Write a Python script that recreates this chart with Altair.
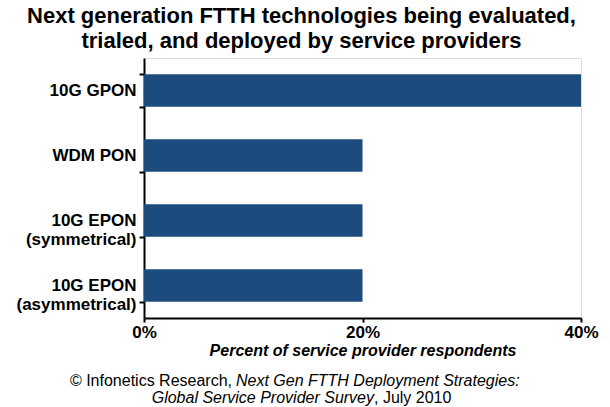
import altair as alt
import pandas as pd

# Survey results: share of service providers evaluating / trialing / deploying each technology
technologies = [
    "10G GPON",
    "WDM PON",
    "10G EPON\n(symmetrical)",
    "10G EPON\n(asymmetrical)",
]
shares = [0.40, 0.20, 0.20, 0.20]

title_lines = [
    "Next generation FTTH technologies being evaluated,",
    "trialed, and deployed by service providers",
]
x_title = "Percent of service provider respondents"
x_ticks = [0.0, 0.2, 0.4]

# Source note, split where the typeface changes
source_line1 = ["\u00a9 Infonetics Research,", "Next Gen FTTH Deployment Strategies:"]
source_line2 = ["Global Service Provider Survey", ", July 2010"]

FONT = "Liberation Sans, Arial, Helvetica, sans-serif"
BAR_COLOR = "#1c4b7d"

df = pd.DataFrame({"tech": technologies, "share": shares})

bars = alt.Chart(df).mark_bar(color=BAR_COLOR).encode(
    y=alt.Y(
        "tech:N",
        sort=technologies,
        title=None,
        scale=alt.Scale(paddingInner=0.5, paddingOuter=0.25),
        axis=alt.Axis(
            labelExpr="split(datum.label, '\\n')",
            labelFont=FONT,
            labelFontSize=17,
            labelFontWeight="bold",
            labelColor="black",
            labelLineHeight=19,
            labelPadding=3,
            domainColor="black",
            domainWidth=2,
            tickColor="black",
            tickWidth=2,
            tickSize=5,
            tickBand="extent",
        ),
    ),
    x=alt.X(
        "share:Q",
        title=x_title,
        scale=alt.Scale(domain=[0, 0.4], nice=False),
        axis=alt.Axis(
            values=x_ticks,
            format=".0%",
            grid=False,
            labelFlush=False,
            labelFont=FONT,
            labelFontSize=17,
            labelFontWeight="bold",
            labelColor="black",
            labelPadding=2,
            domainColor="black",
            domainWidth=2,
            tickColor="black",
            tickWidth=2,
            tickSize=4,
            titleFont=FONT,
            titleFontSize=16,
            titleFontWeight="bold",
            titleFontStyle="italic",
            titleColor="black",
            titlePadding=2,
        ),
    ),
)

note_df = pd.DataFrame({"a": [source_line1[0]], "b": [source_line1[1]],
                        "c": [source_line2[0]], "d": [source_line2[1]]})

def note(field, align, x, y, style):
    return alt.Chart(note_df).mark_text(
        align=align, baseline="alphabetic", font=FONT, fontSize=16,
        fontStyle=style, color="black",
    ).encode(text=f"{field}:N", x=alt.value(x), y=alt.value(y))

notes = (
    note("a", "right", 88, 328, "normal")
    + note("b", "left", 92, 328, "italic")
    + note("c", "right", 230, 345, "italic")
    + note("d", "left", 230, 345, "normal")
)

chart = (
    alt.layer(bars, notes)
    .properties(
        width=437,
        height=260,
        title=alt.TitleParams(
            text=title_lines,
            font=FONT,
            fontSize=22,
            fontWeight="bold",
            color="black",
            anchor="middle",
            dx=-61,
            offset=-4,
            lineHeight=25,
        ),
        autosize=alt.AutoSizeParams(type="none"),
        padding={"left": 144, "top": 58, "right": 29, "bottom": 89},
    )
    .configure_view(stroke=None)
    .configure(background="white")
)

chart.save("out.html", embed_options={"renderer": "svg", "actions": False})
